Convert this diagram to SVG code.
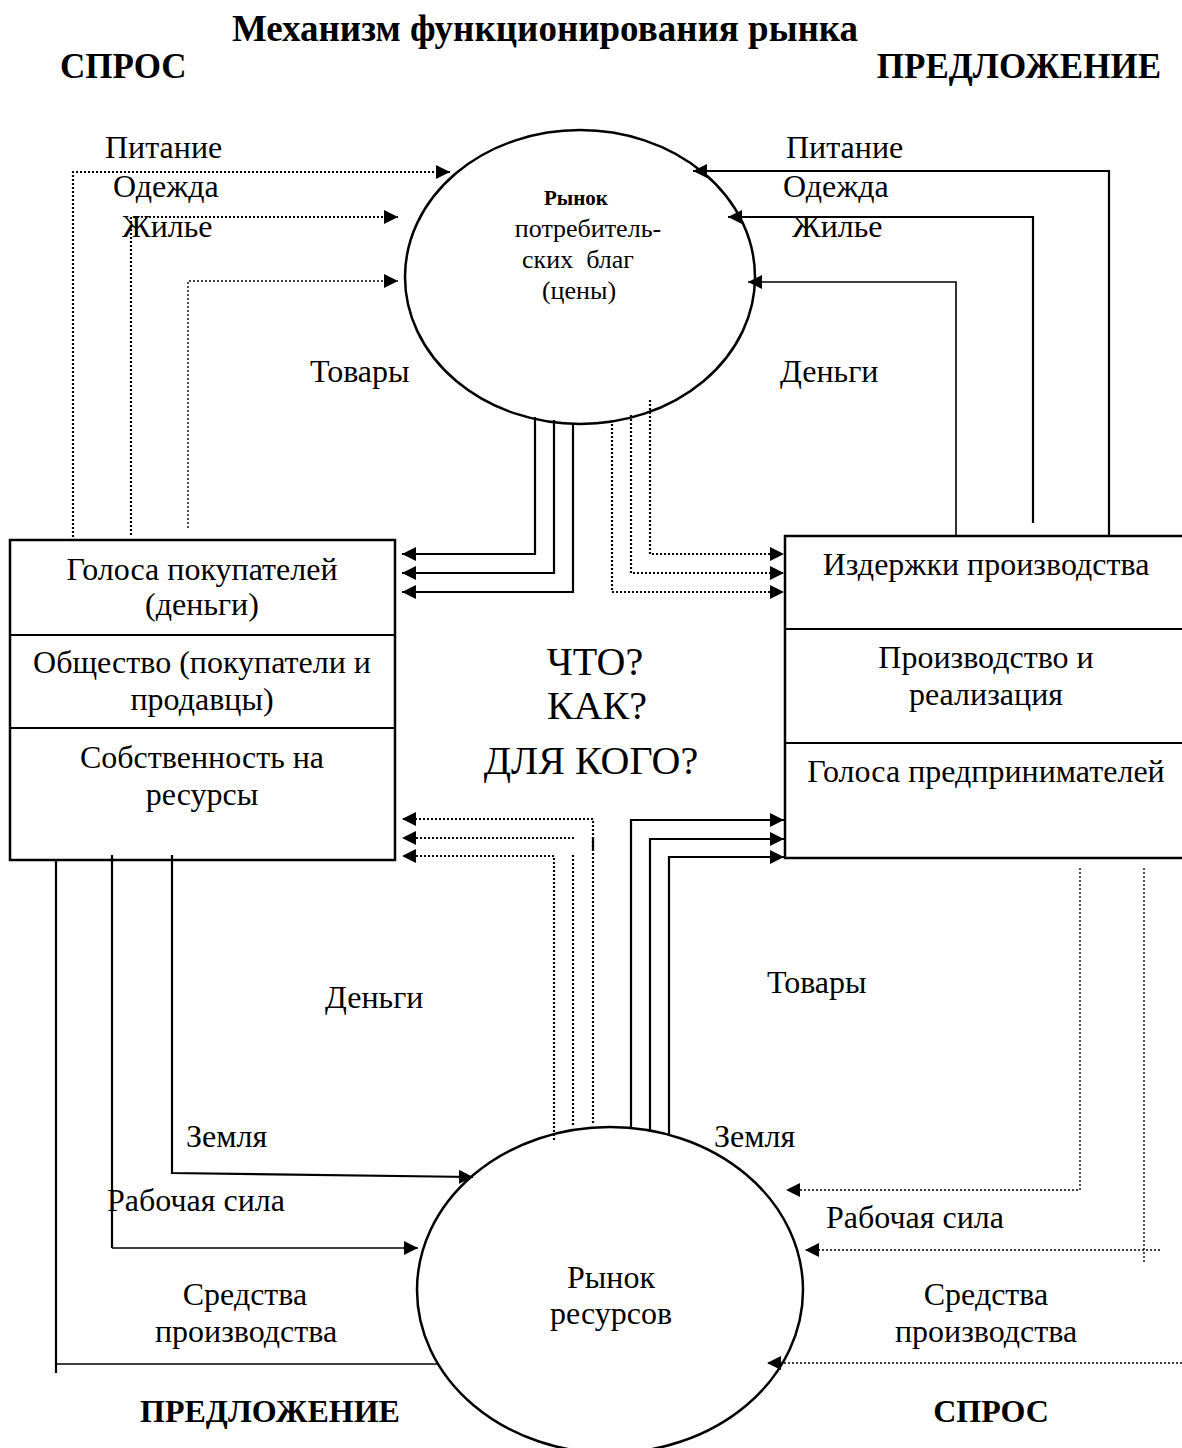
<svg xmlns="http://www.w3.org/2000/svg" width="1182" height="1448" viewBox="0 0 1182 1448">
<style>
text{font-family:"Liberation Serif","Times New Roman",serif;fill:#000}
.t{font-size:32px}
.q{font-size:40px}
.b{font-size:32px;font-weight:bold}
.h{font-size:35px;font-weight:bold}
.s{font-size:26px}
.c{text-anchor:middle}
.shape{fill:#fff;stroke:#000;stroke-width:2.5}
.ln{fill:none;stroke:#000;stroke-width:2.2}
.thin{fill:none;stroke:#000;stroke-width:1.6}
.dot{fill:none;stroke:#000;stroke-width:2.2;stroke-dasharray:2 2}
.dott{fill:none;stroke:#000;stroke-width:1.4;stroke-dasharray:2 2}
</style>
<defs>
<marker id="ah" markerUnits="userSpaceOnUse" markerWidth="14" markerHeight="14" refX="14" refY="7" orient="auto">
<path d="M0,0 L14,7 L0,14 z" fill="#000"/>
</marker>
</defs>
<rect width="1182" height="1448" fill="#fff"/>
<text class="c" x="545" y="41" style="font-size:37px;font-weight:bold">Механизм функционирования рынка</text>
<text class="h" x="60" y="78">СПРОС</text>
<text class="h" x="1161" y="78" text-anchor="end">ПРЕДЛОЖЕНИЕ</text>

<g id="market-goods">
<ellipse class="shape" cx="580" cy="277" rx="175" ry="147"/>
<text x="576" y="205" class="c" style="font-size:21px;font-weight:bold">Рынок</text>
<text x="588" y="237" class="s c">потребитель-</text>
<text x="578" y="268" class="s c" xml:space="preserve">ских  благ</text>
<text x="579" y="299" class="s c">(цены)</text>
</g>

<g id="market-resources">
<ellipse class="shape" cx="610" cy="1290" rx="193" ry="163"/>
<text x="611" y="1288" class="t c">Рынок</text>
<text x="611" y="1324" class="t c">ресурсов</text>
</g>

<g id="households">
<rect class="shape" x="10" y="540" width="385" height="320"/>
<line class="ln" x1="10" y1="635" x2="395" y2="635"/>
<line class="ln" x1="10" y1="728" x2="395" y2="728"/>
<text x="202" y="580" class="t c">Голоса покупателей</text>
<text x="202" y="615" class="t c">(деньги)</text>
<text x="202" y="673" class="t c">Общество (покупатели и</text>
<text x="202" y="710" class="t c">продавцы)</text>
<text x="202" y="768" class="t c">Собственность на</text>
<text x="202" y="805" class="t c">ресурсы</text>
</g>

<g id="firms">
<rect class="shape" x="785" y="536" width="420" height="322"/>
<line class="ln" x1="785" y1="629" x2="1182" y2="629"/>
<line class="ln" x1="785" y1="743" x2="1182" y2="743"/>
<text x="986" y="575" class="t c">Издержки производства</text>
<text x="986" y="668" class="t c">Производство и</text>
<text x="986" y="705" class="t c">реализация</text>
<text x="986" y="782" class="t c">Голоса предпринимателей</text>
</g>

<g id="center-questions">
<text x="595" y="675" class="q c">ЧТО?</text>
<text x="597" y="719" class="q c">КАК?</text>
<text x="591" y="774" class="q c">ДЛЯ КОГО?</text>
</g>

<g id="connectors">
<path class="dot" d="M73,537 V172 H450" marker-end="url(#ah)"/>
<path class="dot" d="M131,535 V217 H398" marker-end="url(#ah)"/>
<path class="dott" d="M188,528 V281 H398" marker-end="url(#ah)"/>
<path class="ln" d="M1109,536 V171 H693" marker-end="url(#ah)"/>
<path class="ln" d="M1033,523 V217 H728" marker-end="url(#ah)"/>
<path class="thin" d="M956,536 V282 H748" marker-end="url(#ah)"/>
<path class="ln" d="M535,417 V554 H402" marker-end="url(#ah)"/>
<path class="ln" d="M554,420 V573 H402" marker-end="url(#ah)"/>
<path class="ln" d="M573,423 V592 H402" marker-end="url(#ah)"/>
<path class="dot" d="M650,400 V554 H784" marker-end="url(#ah)"/>
<path class="dot" d="M631,415 V573 H784" marker-end="url(#ah)"/>
<path class="dot" d="M612,420 V592 H784" marker-end="url(#ah)"/>
<path class="dot" d="M593,1123 V819 H402" marker-end="url(#ah)"/>
<line class="ln" x1="593" y1="838" x2="593" y2="850"/>
<path class="dot" d="M573,1125 V855"/>
<path class="dot" d="M574,838 H402" marker-end="url(#ah)"/>
<path class="dot" d="M554,1140 V856 H402" marker-end="url(#ah)"/>
<path class="ln" d="M631,1127 V820 H784" marker-end="url(#ah)"/>
<path class="ln" d="M650,1132 V839 H784" marker-end="url(#ah)"/>
<path class="ln" d="M669,1134 V857 H784" marker-end="url(#ah)"/>
<path class="ln" d="M172,855 V1173 L473,1177" marker-end="url(#ah)"/>
<path class="ln" d="M112,855 V1248"/>
<path class="thin" d="M112,1248 H418" marker-end="url(#ah)"/>
<path class="ln" d="M56,861 V1373"/>
<path class="thin" d="M56,1364 H438"/>
<path class="dott" d="M1080,868 V1190 H786" marker-end="url(#ah)"/>
<path class="dott" d="M1144,868 V1262"/>
<path class="dott" d="M1160,1250 H805" marker-end="url(#ah)"/>
<path class="dott" d="M1182,1363 H767" marker-end="url(#ah)"/>
</g>

<g id="labels">
<text x="105" y="158" class="t">Питание</text>
<text x="113" y="197" class="t">Одежда</text>
<text x="122" y="237" class="t">Жилье</text>
<text x="786" y="158" class="t">Питание</text>
<text x="783" y="197" class="t">Одежда</text>
<text x="792" y="237" class="t">Жилье</text>
<text x="310" y="382" class="t">Товары</text>
<text x="780" y="382" class="t">Деньги</text>
<text x="325" y="1008" class="t">Деньги</text>
<text x="767" y="993" class="t">Товары</text>
<text x="186" y="1147" class="t">Земля</text>
<text x="107" y="1211" class="t">Рабочая сила</text>
<text x="245" y="1305" class="t c">Средства</text>
<text x="246" y="1342" class="t c">производства</text>
<text x="714" y="1147" class="t">Земля</text>
<text x="826" y="1228" class="t">Рабочая сила</text>
<text x="986" y="1305" class="t c">Средства</text>
<text x="986" y="1342" class="t c">производства</text>
<text x="270" y="1422" class="b c">ПРЕДЛОЖЕНИЕ</text>
<text x="991" y="1422" class="b c">СПРОС</text>
</g>
</svg>
